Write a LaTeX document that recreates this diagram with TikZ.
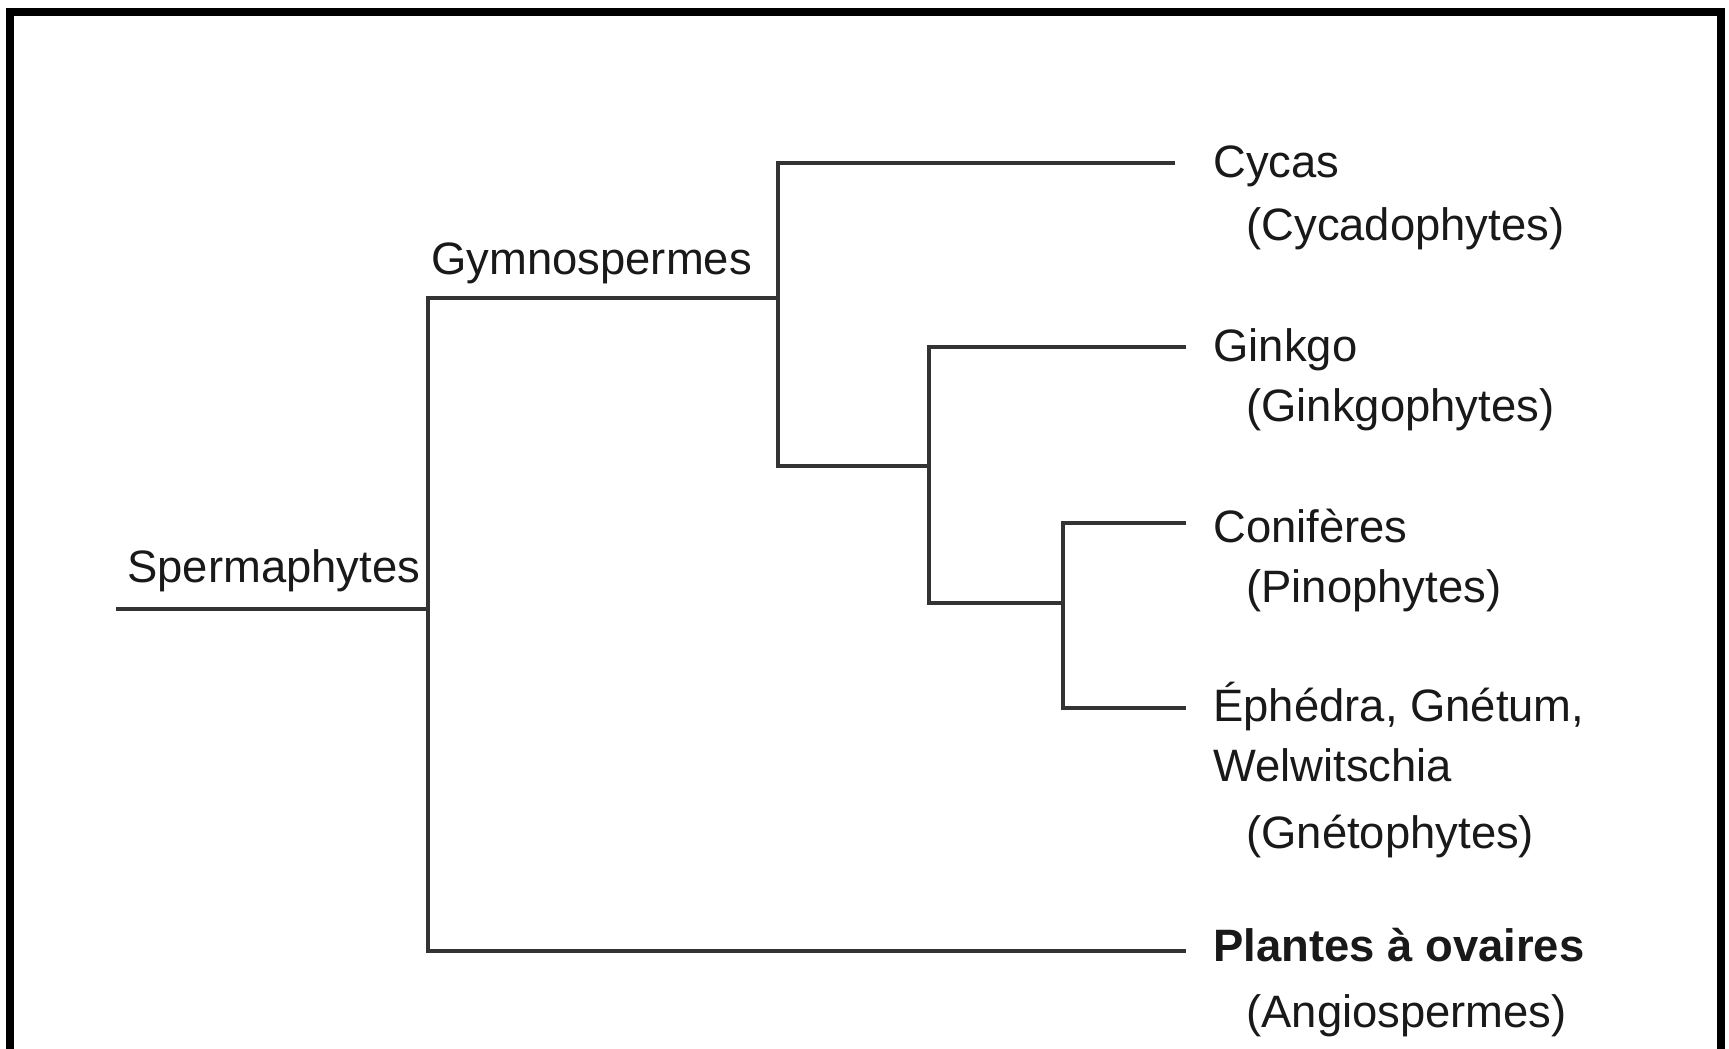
\documentclass[tikz,border=0pt]{standalone}
\usepackage{fontspec}
\setmainfont{Liberation Sans}
\begin{document}
\begin{tikzpicture}[x=0.5pt,y=-0.5pt,
  branch/.style={line width=1.7pt, draw=black!80, line cap=rect},
  lbl/.style={anchor=west, inner sep=0pt, text height=0.75em, text depth=0.2em,
              font=\fontsize{22.7}{27}\selectfont, text=black!90},
  frame/.style={line width=4pt, draw=black}]
\useasboundingbox (0,0) rectangle (1729,1049);
\clip (0,0) rectangle (1729,1049);
\fill[white] (0,0) rectangle (1729,1049);
\draw[frame] (10,1070) -- (10,12) -- (1721,12) -- (1721,1070);

% junction coordinates
\coordinate (root)  at (118,609);
\coordinate (nS)    at (428,609);
\coordinate (nSt)   at (428,298);
\coordinate (nSb)   at (428,951);
\coordinate (nG)    at (778,298);
\coordinate (nGt)   at (778,163);
\coordinate (nGb)   at (778,466);
\coordinate (nK)    at (929,466);
\coordinate (nKt)   at (929,347);
\coordinate (nKb)   at (929,603);
\coordinate (nC)    at (1063,603);
\coordinate (nCt)   at (1063,523);
\coordinate (nCb)   at (1063,708);
% leaf ends
\coordinate (eCy)   at (1173,163);
\coordinate (eGi)   at (1184,347);
\coordinate (eCo)   at (1184,523);
\coordinate (eEp)   at (1184,708);
\coordinate (ePl)   at (1184,951);

% labels
\node[lbl] (lSper) at (127,577) {Spermaphytes};
\node[lbl] (lGymn) at (431,269) {Gymnospermes};
\node[lbl] (lCy)   at (1213,172) {Cycas};
\node[lbl] (lCy2)  at (1246,235) {(Cycadophytes)};
\node[lbl] (lGi)   at (1213,356) {Ginkgo};
\node[lbl] (lGi2)  at (1246,416) {(Ginkgophytes)};
\node[lbl] (lCo)   at (1213,537) {Conifères};
\node[lbl] (lCo2)  at (1246,597) {(Pinophytes)};
\node[lbl] (lEp)   at (1213,716) {Éphédra, Gnétum,};
\node[lbl] (lEp2)  at (1213,776) {Welwitschia};
\node[lbl] (lEp3)  at (1246,843) {(Gnétophytes)};
\node[lbl, font=\fontsize{22.7}{27}\selectfont\bfseries] (lPl) at (1213,956) {Plantes à ovaires};
\node[lbl] (lPl2)  at (1246,1022) {(Angiospermes)};

% branches
\draw[branch] (root) -- (nS);
\draw[branch] (nSt) -- (nSb);
\draw[branch] (nSt) -- (nG);
\draw[branch] (nSb) -- (ePl);
\draw[branch] (nGt) -- (nGb);
\draw[branch] (nGt) -- (eCy);
\draw[branch] (nGb) -- (nK);
\draw[branch] (nKt) -- (nKb);
\draw[branch] (nKt) -- (eGi);
\draw[branch] (nKb) -- (nC);
\draw[branch] (nCt) -- (nCb);
\draw[branch] (nCt) -- (eCo);
\draw[branch] (nCb) -- (eEp);
\end{tikzpicture}
\end{document}
